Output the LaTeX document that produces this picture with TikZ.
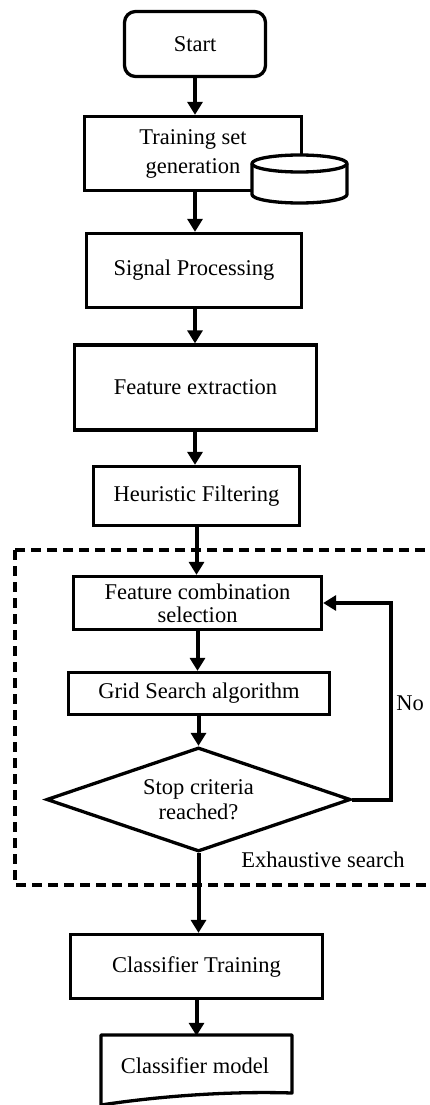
\documentclass[tikz,border=0pt]{standalone}
\usepackage{fontspec}
\setmainfont{Liberation Serif}
\usetikzlibrary{shapes.geometric,arrows.meta,calc}
\begin{document}
\begin{tikzpicture}[x=1pt,y=-1pt,
  box/.style={draw,line width=3.3pt,rectangle,inner sep=0pt,align=center,
    font=\fontsize{22.5}{25}\selectfont},
  txt/.style={inner sep=0pt,align=center,font=\fontsize{22.5}{25}\selectfont},
  arr/.style={line width=4pt,-{Triangle[width=15pt,length=13pt]}},
  dbox/.style={line width=3.3pt,dash pattern=on 10pt off 6pt},
  shapeline/.style={line width=3.3pt,line join=round}]
\useasboundingbox (0,0) rectangle (429,1105);
% dashed region
\draw[dbox] (15,550) rectangle (445,885);
% nodes
\node[box,minimum width=141pt,minimum height=65pt,rounded corners=11pt] (start) at (195,44) {Start};
\node[box,minimum width=217pt,minimum height=74pt,font=\fontsize{22.5}{29}\selectfont] (train) at (193,153.5) {Training set\\generation};
% database cylinder
\filldraw[shapeline,fill=white] (252,163.5) -- (252,194.5) arc(180:0:47.5 and 8.5) -- (347,163.5) arc(0:-180:47.5 and 8.5) -- cycle;
\draw[shapeline] (252,163.5) arc(180:0:47.5 and 8.5);
\node[box,minimum width=215pt,minimum height=74pt] (signal) at (194,270.5) {Signal Processing};
\node[box,minimum width=242pt,minimum height=85pt] (feat) at (195.5,387.5) {Feature extraction};
\node[box,minimum width=206pt,minimum height=59pt] (heur) at (196.5,496) {Heuristic Filtering};
\node[box,minimum width=248pt,minimum height=53pt,font=\fontsize{22.5}{23}\selectfont] (fcs) at (197.5,603) {Feature combination\\selection};
\node[box,minimum width=261pt,minimum height=42pt] (grid) at (199,693.5) {Grid Search algorithm};
\node[box,diamond,aspect=3,minimum width=304pt,minimum height=104pt] (dia) at (198.5,799.5) {Stop criteria\\reached?};
\node[box,minimum width=252pt,minimum height=64pt] (ctrain) at (196.5,966.5) {Classifier Training};
% document shape
\node[txt,minimum width=188pt,minimum height=56pt] (cmodel) at (196.5,1064) {};
\draw[shapeline] (101,1035) -- (292,1035) -- (292,1093) .. controls (230,1091) and (160,1096) .. (101,1105) -- cycle;
\node[txt] (cmodellbl) at (195,1066) {Classifier model};
% labels
\node[txt] (no) at (410,703) {No};
\node[txt] (exh) at (323,860) {Exhaustive search};
\coordinate (loopx) at (391,0);
% connectors
\draw[arr] (start.south) -- (start.south |- train.north);
\draw[arr] (train.south -| start.south) -- (start.south |- signal.north);
\draw[arr] (signal.south -| start.south) -- (start.south |- feat.north);
\draw[arr] (feat.south -| start.south) -- (start.south |- heur.north);
\draw[arr] (heur.south) -- (heur.south |- fcs.north);
\draw[arr] (fcs.south) -- (fcs.south |- grid.north);
\draw[arr] (grid.south -| dia.north) -- (dia.north);
\draw[arr] (dia.east) -- (dia.east -| loopx) |- (fcs.east);
\draw[arr] (dia.south) -- (dia.south |- ctrain.north);
\draw[arr] (ctrain.south) -- (ctrain.south |- cmodel.north);
\end{tikzpicture}
\end{document}
